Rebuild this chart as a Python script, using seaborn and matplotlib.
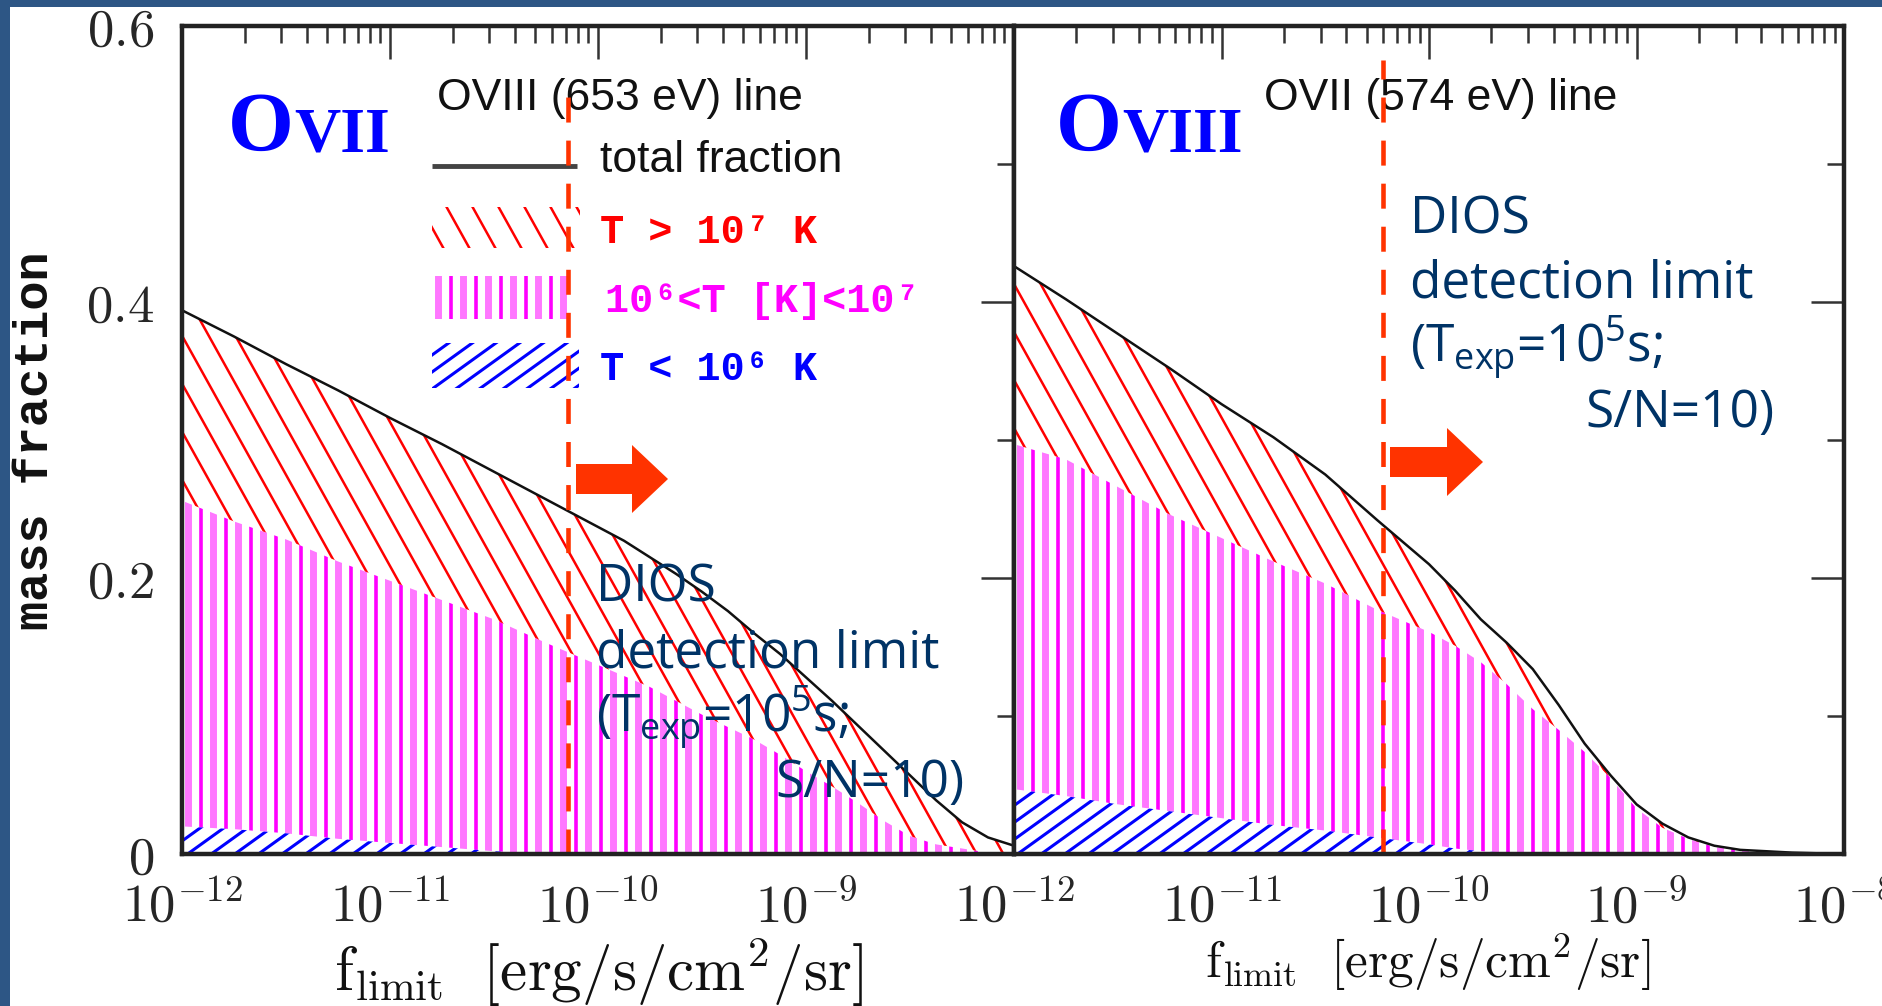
import numpy as np
import pandas as pd
import seaborn as sns
import matplotlib.pyplot as plt
from matplotlib.collections import LineCollection
from matplotlib.patches import Rectangle, FancyArrow
from matplotlib.ticker import MultipleLocator, NullFormatter

log_flimit = [-12, -11.75, -11.5, -11.25, -11, -10.75, -10.5, -10.25, -10,
              -9.875, -9.75, -9.625, -9.5, -9.375, -9.25, -9.125, -9,
              -8.875, -8.75, -8.625, -8.5, -8.375, -8.25, -8.125, -8]

# OVII panel: total fraction and upper edges of the stacked temperature bands
ovii_total = [0.394, 0.375, 0.355, 0.336, 0.316, 0.297, 0.277, 0.257, 0.237,
              0.227, 0.215, 0.203, 0.190, 0.176, 0.160, 0.145, 0.128,
              0.111, 0.093, 0.075, 0.057, 0.039, 0.023, 0.012, 0.006]
ovii_warm_top = [0.256, 0.241, 0.228, 0.212, 0.198, 0.184, 0.170, 0.153, 0.137,
                 0.129, 0.121, 0.111, 0.101, 0.092, 0.083, 0.072, 0.060,
                 0.049, 0.037, 0.024, 0.013, 0.007, 0.004, 0.001, 0.0]
ovii_cool_top = [0.020, 0.018, 0.015, 0.011, 0.008, 0.005, 0.002, 0.0, 0.0,
                 0.0, 0.0, 0.0, 0.0, 0.0, 0.0, 0.0, 0.0,
                 0.0, 0.0, 0.0, 0.0, 0.0, 0.0, 0.0, 0.0]

# OVIII panel
oviii_total = [0.426, 0.402, 0.377, 0.352, 0.326, 0.302, 0.275, 0.242, 0.210,
               0.191, 0.170, 0.153, 0.134, 0.108, 0.080, 0.057, 0.036,
               0.022, 0.012, 0.006, 0.003, 0.002, 0.001, 0.0005, 0.0]
oviii_warm_top = [0.297, 0.286, 0.266, 0.246, 0.229, 0.212, 0.196, 0.177, 0.161,
                  0.151, 0.139, 0.123, 0.105, 0.090, 0.074, 0.055, 0.033,
                  0.019, 0.011, 0.005, 0.003, 0.002, 0.001, 0.0, 0.0]
oviii_cool_top = [0.047, 0.042, 0.036, 0.031, 0.026, 0.021, 0.017, 0.012, 0.007,
                  0.004, 0.002, 0.001, 0.0, 0.0, 0.0, 0.0, 0.0,
                  0.0, 0.0, 0.0, 0.0, 0.0, 0.0, 0.0, 0.0]

# DIOS detection limits (erg/s/cm2/sr)
dios_limit_ovii = 7.2e-11
dios_limit_oviii = 6.0e-11

x_exponents = [-12, -11, -10, -9, -8]
y_ticks = [0, 0.2, 0.4, 0.6]
y_tick_labels = ['0', '0.2', '0.4', '0.6']

RED = '#ff0000'
MAGENTA = '#ff00ff'
LIGHT_MAGENTA = '#ff77ff'
BLUE = '#0000ff'
ORANGE = '#ff3300'
NAVY = '#003366'
FRAME = '#2d5685'

sns.set_style('white')
plt.rcParams['font.family'] = ['Liberation Sans', 'DejaVu Sans']
plt.rcParams['mathtext.fontset'] = 'cm'
plt.rcParams['mathtext.rm'] = 'Open Sans'
plt.rcParams['mathtext.it'] = 'Open Sans'
plt.rcParams['lines.scale_dashes'] = False

FIG_W, FIG_H = 1882, 1006
AX_BOTTOM, AX_H = 854, 828   # pixel row of y=0 and axes height


def hatch(ax, clip, slope, step, colors, widths, w_px, h_px, zorder=2):
    # draws a line pattern (slope in pixel units, None = vertical) clipped to a region
    if slope is None:
        pos = np.arange(step / 2, w_px, step)
        segs = [[(p / w_px, 0), (p / w_px, 1)] for p in pos]
    else:
        reach = abs(slope) * w_px
        pos = np.arange(-reach, h_px + reach, step)
        segs = [[(0, c / h_px), (1, (c + slope * w_px) / h_px)] for c in pos]
    n = len(segs)
    lc = LineCollection(segs, colors=[colors[i % len(colors)] for i in range(n)],
                        linewidths=[widths[i % len(widths)] for i in range(n)],
                        transform=ax.transAxes, zorder=zorder)
    ax.add_collection(lc, autolim=False)
    if isinstance(clip, tuple):
        lc.set_clip_path(*clip)
    else:
        lc.set_clip_path(clip)


def band(ax, x, lo, hi):
    poly = ax.fill_between(x, lo, hi, facecolor='none', edgecolor='none', lw=0)
    return (poly.get_paths()[0], ax.transData)


def draw_panel(ax, x0, w_px, total, warm_top, cool_top, dios, ion, line_label,
               dios_pos, arrow_px, dash_top_px, ion_x):
    x = 10 ** np.array(log_flimit)
    zeros = np.zeros(len(x))
    ax.set_xscale('log')

    fx = lambda px: (px - x0) / w_px
    fy = lambda py: (AX_BOTTOM - py) / AX_H

    # stacked regions: T<1e6 (blue), 1e6-1e7 (magenta), >1e7 (red)
    hatch(ax, band(ax, x, cool_top, warm_top), None, 12.5,
          [LIGHT_MAGENTA, MAGENTA], [5.0, 2.6], w_px, AX_H, zorder=2)
    hatch(ax, band(ax, x, warm_top, total), -1.8, 48, [RED], [1.8], w_px, AX_H, zorder=3)
    hatch(ax, band(ax, x, zeros, cool_top), 0.72, 17, [BLUE], [2.2], w_px, AX_H, zorder=3)

    df = pd.DataFrame({'flimit': x, 'fraction': total})
    sns.lineplot(data=df, x='flimit', y='fraction', ax=ax, color='#111111', lw=1.8, zorder=4)

    # detection limit and arrow
    ax.axvline(dios, ymin=0, ymax=fy(dash_top_px), color=ORANGE, lw=3.3,
               dashes=(18, 13), zorder=5)
    tail, tip, yc = arrow_px
    ax.add_patch(FancyArrow(fx(tail), fy(yc), fx(tip) - fx(tail), 0,
                            width=30 / AX_H, head_width=68 / AX_H,
                            head_length=36 / w_px, length_includes_head=True,
                            transform=ax.transAxes, color=ORANGE, lw=0, zorder=6))

    # ion name
    ax.text(fx(ion_x[0]), fy(151), 'O', transform=ax.transAxes, fontsize=61,
            family='Liberation Serif', weight='bold', color=BLUE, va='baseline')
    ax.text(fx(ion_x[1]), fy(151), ion, transform=ax.transAxes, fontsize=46,
            family='Liberation Serif', weight='bold', color=BLUE, va='baseline')
    ax.text(fx(line_label[1]), fy(110), line_label[0], transform=ax.transAxes,
            fontsize=32, color='#111111', va='baseline')

    # DIOS note
    left, right, base = dios_pos
    kw = dict(transform=ax.transAxes, fontsize=37, color=NAVY, family='Open Sans',
              va='baseline', math_fontfamily='custom', zorder=7)
    ax.text(fx(left), fy(base[0]), 'DIOS', **kw)
    ax.text(fx(left), fy(base[1]), 'detection limit', **kw)
    ax.text(fx(left), fy(base[2]), r'(T$_{\mathrm{exp}}$=10$^{5}$s;', **kw)
    ax.text(fx(right), fy(base[3]), 'S/N=10)', ha='right', **kw)

    # axes cosmetics
    ax.set_xlim(1e-12, 1e-8)
    ax.set_ylim(0, 0.6)
    ax.yaxis.set_minor_locator(MultipleLocator(0.1))
    ax.xaxis.set_minor_formatter(NullFormatter())
    ax.tick_params(which='both', direction='in', top=True, right=True,
                   color='#333333', width=1.8)
    ax.tick_params(which='major', length=24)
    ax.tick_params(which='minor', length=12)
    ax.tick_params(axis='x', which='major', pad=20, labelsize=38)
    ax.tick_params(axis='y', which='major', pad=20, labelsize=38)
    for s in ax.spines.values():
        s.set_linewidth(3.2)
        s.set_color('#222222')
        s.set_zorder(8)
    return fx, fy


fig = plt.figure(figsize=(FIG_W / 100, FIG_H / 100), dpi=100)
fig.patch.set_facecolor('white')

ax_l = fig.add_axes([182 / FIG_W, (FIG_H - AX_BOTTOM) / FIG_H, 832 / FIG_W, AX_H / FIG_H])
ax_r = fig.add_axes([1014 / FIG_W, (FIG_H - AX_BOTTOM) / FIG_H, 830 / FIG_W, AX_H / FIG_H])

fx_l, fy_l = draw_panel(ax_l, 182, 832, ovii_total, ovii_warm_top, ovii_cool_top,
                        dios_limit_ovii, 'VII', ('OVIII (653 eV) line', 437),
                        (596, 964, [602, 667, 732, 797]), (576, 668, 479), 80, (228, 294))
fx_r, fy_r = draw_panel(ax_r, 1014, 830, oviii_total, oviii_warm_top, oviii_cool_top,
                        dios_limit_oviii, 'VIII', ('OVII (574 eV) line', 1264),
                        (1410, 1775, [233, 297, 362, 427]), (1390, 1483, 462), 60, (1056, 1122))

# legend drawn inside the left panel
ax_l.plot([fx_l(432), fx_l(577)], [fy_l(166)] * 2, transform=ax_l.transAxes,
          color='#444444', lw=3.5, solid_capstyle='butt')
ax_l.text(fx_l(600), fy_l(172), 'total fraction', transform=ax_l.transAxes,
          fontsize=32, color='#111111', va='baseline')

legend_rows = [
    ('T > 10⁷ K', RED, -1.8, 26 * 1.8, [RED], [1.8], 207, 248, 580, 600, 243),
    ('10⁶<T [K]<10⁷', MAGENTA, None, 12.5, [LIGHT_MAGENTA, MAGENTA], [5.0, 2.6], 276, 319, 568, 605, 312),
    ('T < 10⁶ K', BLUE, 0.72, 17, [BLUE], [2.2], 343, 388, 579, 600, 380),
]
for label, tcolor, slope, step, cols, widths, top, bot, right, tx, tb in legend_rows:
    rect = Rectangle((fx_l(432), fy_l(bot)), fx_l(right) - fx_l(432), (bot - top) / AX_H,
                     transform=ax_l.transAxes, fill=False, lw=0)
    ax_l.add_patch(rect)
    hatch(ax_l, rect, slope, step, cols, widths, 832, AX_H, zorder=3)
    ax_l.text(fx_l(tx), fy_l(tb), label, transform=ax_l.transAxes, fontsize=29,
              family=['Liberation Mono', 'DejaVu Sans Mono'], weight='bold',
              color=tcolor, va='baseline')

# ticks and labels
ax_l.set_xticks([10.0 ** e for e in x_exponents],
                [rf'$10^{{{e}}}$' for e in x_exponents[:-1]] + [''])
ax_r.set_xticks([10.0 ** e for e in x_exponents],
                [rf'$10^{{{e}}}$' for e in x_exponents])
ax_l.set_yticks(y_ticks, [rf'$\mathrm{{{t}}}$' for t in y_tick_labels])
ax_r.set_yticks(y_ticks, [''] * len(y_ticks))

ax_l.set_ylabel('mass fraction', fontsize=35, family=['Liberation Mono', 'DejaVu Sans Mono'],
                weight='bold', color='#111111')
ax_l.yaxis.set_label_coords(fx_l(36), fy_l(441))
ax_l.yaxis.label.set_va('center')
ax_r.set_ylabel('')

ax_l.set_xlabel(r'$\mathrm{f_{limit}\ \ [erg/s/cm^{2}/sr]}$', fontsize=44, color='#111111')
ax_l.xaxis.set_label_coords(fx_l(599), fy_l(972))
ax_l.xaxis.label.set_va('center')
ax_r.set_xlabel(r'$\mathrm{f_{limit}\ \ [erg/s/cm^{2}/sr]}$', fontsize=37, color='#111111')
ax_r.xaxis.set_label_coords(fx_r(1428), fy_r(962))
ax_r.xaxis.label.set_va('center')

# slide frame (top and left strips)
fig.add_artist(Rectangle((0, 1 - 7 / FIG_H), 1, 7 / FIG_H, transform=fig.transFigure,
                         color=FRAME, lw=0, zorder=20))
fig.add_artist(Rectangle((0, 0), 10 / FIG_W, 1, transform=fig.transFigure,
                         color=FRAME, lw=0, zorder=20))

fig.savefig('out.png', dpi=100)
